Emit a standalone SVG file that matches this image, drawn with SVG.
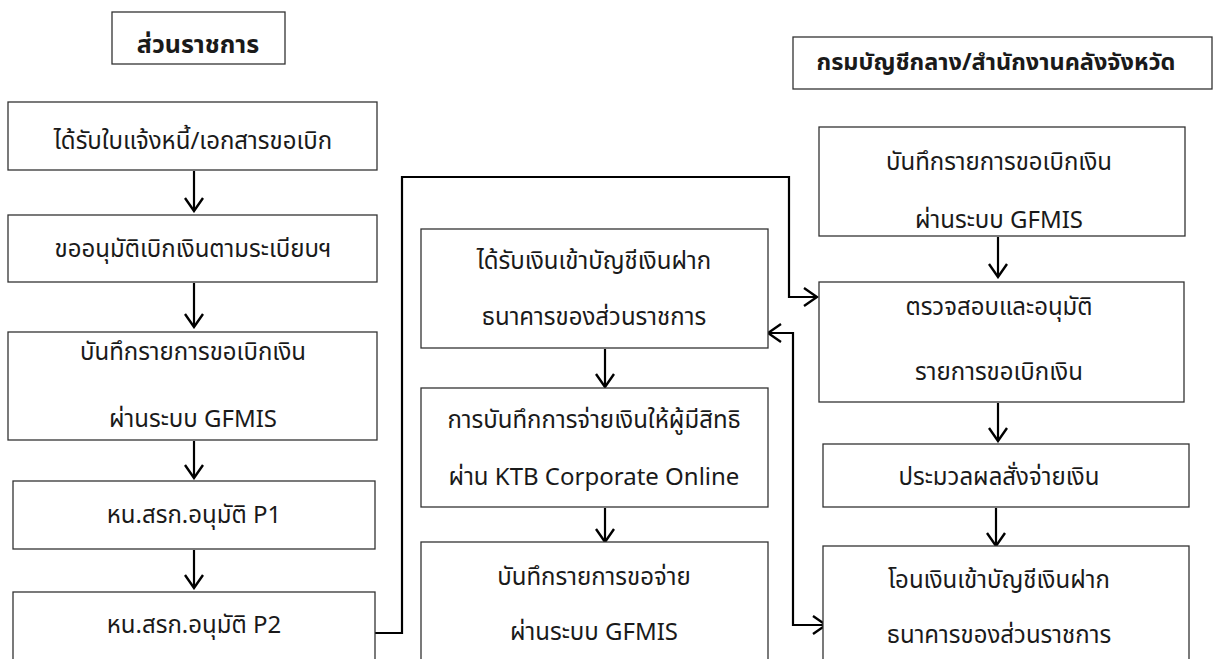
<svg xmlns="http://www.w3.org/2000/svg" width="1213" height="659" viewBox="0 0 1213 659">
<style>
.box{fill:#fff;stroke:#333;stroke-width:1.3}
.t{font-family:'Noto Sans Thai','Noto Sans','Leelawadee UI',Tahoma,sans-serif;font-size:24px;fill:#1a1a1a;text-anchor:middle}
.b{font-weight:bold}
.c{fill:none;stroke:#000;stroke-width:2.2}
</style>
<defs>
<marker id="arr" markerUnits="userSpaceOnUse" markerWidth="16" markerHeight="20" refX="14" refY="10" orient="auto-start-reverse" viewBox="0 0 16 20">
<path d="M1,1 L14,10 L1,19" fill="none" stroke="#000" stroke-width="2.4"/>
</marker>
</defs>
<rect width="1213" height="659" fill="#fff"/>
<g id="connectors">
<line class="c" x1="194" y1="171" x2="194" y2="211" marker-end="url(#arr)"/>
<line class="c" x1="194" y1="283" x2="194" y2="327" marker-end="url(#arr)"/>
<line class="c" x1="194" y1="441" x2="194" y2="478" marker-end="url(#arr)"/>
<line class="c" x1="194" y1="550" x2="194" y2="588" marker-end="url(#arr)"/>
<polyline class="c" points="375,633 402,633 402,177 789,177 789,297 817,297" marker-end="url(#arr)"/>
<polyline class="c" points="768,333 793,333 793,625 826,625" marker-start="url(#arr)" marker-end="url(#arr)"/>
<line class="c" x1="605" y1="349" x2="605" y2="387" marker-end="url(#arr)"/>
<line class="c" x1="605" y1="508" x2="605" y2="542" marker-end="url(#arr)"/>
<line class="c" x1="998" y1="237" x2="998" y2="277" marker-end="url(#arr)"/>
<line class="c" x1="998" y1="403" x2="998" y2="441" marker-end="url(#arr)"/>
<line class="c" x1="996" y1="508" x2="996" y2="546" marker-end="url(#arr)"/>
</g>
<g id="head-left"><rect class="box" x="112" y="12" width="173" height="52"/><text class="t b" x="198" y="53" style="font-size:25px">ส่วนราชการ</text></g>
<g id="n1"><rect class="box" x="8" y="102" width="369" height="68"/><text class="t" x="193" y="149">ได้รับใบแจ้งหนี้/เอกสารขอเบิก</text></g>
<g id="n2"><rect class="box" x="8" y="215" width="369" height="67"/><text class="t" x="193" y="257">ขออนุมัติเบิกเงินตามระเบียบฯ</text></g>
<g id="n3"><rect class="box" x="8" y="332" width="369" height="108"/><text class="t" x="193" y="360">บันทึกรายการขอเบิกเงิน</text><text class="t" x="193" y="427">ผ่านระบบ GFMIS</text></g>
<g id="n4"><rect class="box" x="13" y="481" width="362" height="68"/><text class="t" x="194" y="523">หน.สรก.อนุมัติ P1</text></g>
<g id="n5"><rect class="box" x="13" y="592" width="362" height="100"/><text class="t" x="194" y="633">หน.สรก.อนุมัติ P2</text></g>
<g id="m1"><rect class="box" x="421" y="229" width="347" height="119"/><text class="t" x="594" y="269">ได้รับเงินเข้าบัญชีเงินฝาก</text><text class="t" x="594" y="325">ธนาคารของส่วนราชการ</text></g>
<g id="m2"><rect class="box" x="421" y="388" width="347" height="119"/><text class="t" x="594" y="428">การบันทึกการจ่ายเงินให้ผู้มีสิทธิ</text><text class="t" x="594" y="485">ผ่าน KTB Corporate Online</text></g>
<g id="m3"><rect class="box" x="421" y="542" width="347" height="150"/><text class="t" x="594" y="585">บันทึกรายการขอจ่าย</text><text class="t" x="594" y="640">ผ่านระบบ GFMIS</text></g>
<g id="head-right"><rect class="box" x="793" y="37" width="419" height="52"/><text class="t b" x="996" y="70" style="font-size:23.5px">กรมบัญชีกลาง/สำนักงานคลังจังหวัด</text></g>
<g id="r1"><rect class="box" x="819" y="127" width="366" height="109"/><text class="t" x="999" y="170">บันทึกรายการขอเบิกเงิน</text><text class="t" x="999" y="228">ผ่านระบบ GFMIS</text></g>
<g id="r2"><rect class="box" x="819" y="282" width="365" height="120"/><text class="t" x="999" y="315">ตรวจสอบและอนุมัติ</text><text class="t" x="999" y="380">รายการขอเบิกเงิน</text></g>
<g id="r3"><rect class="box" x="823" y="444" width="366" height="63"/><text class="t" x="999" y="485">ประมวลผลสั่งจ่ายเงิน</text></g>
<g id="r4"><rect class="box" x="823" y="546" width="366" height="150"/><text class="t" x="999" y="588">โอนเงินเข้าบัญชีเงินฝาก</text><text class="t" x="999" y="643">ธนาคารของส่วนราชการ</text></g>
</svg>
